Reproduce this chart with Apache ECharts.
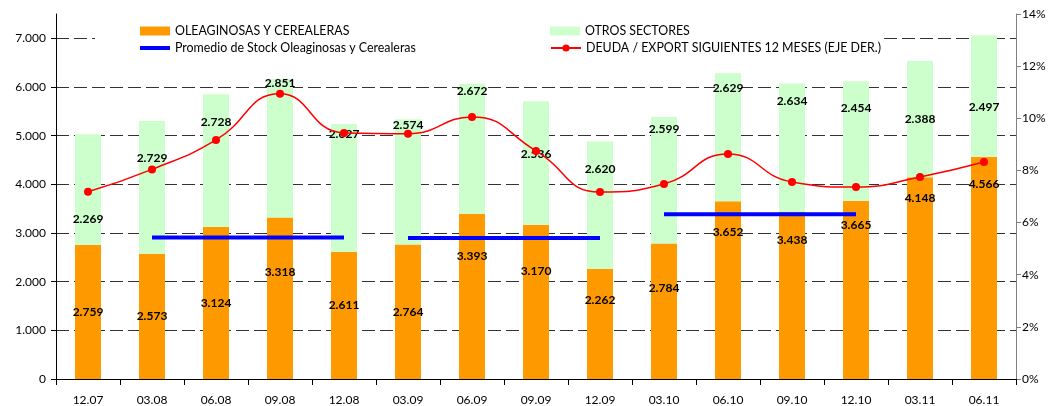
<!DOCTYPE html>
<html>
<head>
<meta charset="utf-8">
<script src="https://cdn.jsdelivr.net/npm/echarts@6/dist/echarts.min.js"></script>
<style>
  html, body { margin: 0; padding: 0; background: #fff; }
  #chart { width: 1053px; height: 406px; }
</style>
</head>
<body>
<div id="chart"></div>
<script>
var periodos = ['12.07','03.08','06.08','09.08','12.08','03.09','06.09','09.09','12.09','03.10','06.10','09.10','12.10','03.11','06.11'];
var oleaginosas = [2759, 2573, 3124, 3318, 2611, 2764, 3393, 3170, 2262, 2784, 3652, 3438, 3665, 4148, 4566];
var otrosSectores = [2269, 2729, 2728, 2851, 2627, 2574, 2672, 2536, 2620, 2599, 2629, 2634, 2454, 2388, 2497];
var promedio1 = [null, 2907, 2907, 2907, 2907, null, null, null, null, null, null, null, null, null, null];
var promedio2 = [null, null, null, null, null, 2897, 2897, 2897, 2897, null, null, null, null, null, null];
var promedio3 = [null, null, null, null, null, null, null, null, null, 3385, 3385, 3385, 3385, null, null];
var deudaExport = [7.18, 8.04, 9.17, 10.94, 9.44, 9.41, 10.05, 8.75, 7.17, 7.48, 8.63, 7.56, 7.36, 7.75, 8.32];
var ejeIzq = [0, 1000, 2000, 3000, 4000, 5000, 6000, 7000];

// desplazamiento vertical (px) de las etiquetas, como en el original
var despOleag = [0, 0, 0, -26, -10, 0, -40, -31, -24, -23, -58, -55, -65, -80, -84];
var despOtros = [30, -29, -38, -65, -54, -57, -58, -9, -36, -51, -49, -46, -33, 0, 11];

var FONT = 'Lato';

function miles(v) {
	return Math.round(v).toString().replace(/\B(?=(\d{3})+(?!\d))/g, '.');
}

function conEtiquetas(valores, desp) {
	var arr = [];
	for (var i = 0; i < valores.length; i++) {
		arr.push({ value: valores[i], label: { offset: [0, desp[i]] } });
	}
	return arr;
}

function segmentoPromedio(datos) {
	return {
		name: 'Promedio de Stock Oleaginosas y Cerealeras',
		type: 'line',
		data: datos,
		symbol: 'none',
		connectNulls: false,
		lineStyle: { color: '#0000FF', width: 4 },
		itemStyle: { color: '#0000FF' },
		z: 4
	};
}

var labelStyle = {
	show: true,
	position: 'inside',
	color: '#000',
	fontFamily: FONT,
	fontWeight: 'bold',
	fontSize: 12,
	formatter: function (p) { return miles(p.value); }
};

var myChart = echarts.init(document.getElementById('chart'));
var option = {
	animation: false,
	backgroundColor: '#fff',
	textStyle: { fontFamily: FONT },
	grid: { left: 56, right: 37, top: 14, bottom: 27 },
	legend: {
		left: 95,
		top: 20,
		width: 775,
		padding: [5, 3, 5, 45],
		backgroundColor: '#fff',
		itemWidth: 30,
		itemHeight: 9,
		itemGap: 5,
		textStyle: { fontFamily: FONT, fontSize: 12.4, color: '#000', lineHeight: 12 },
		data: [
			{ name: 'OLEAGINOSAS Y CEREALERAS', icon: 'rect', textStyle: { width: 370 } },
			{ name: 'OTROS SECTORES', icon: 'rect', textStyle: { width: 290 } },
			{ name: 'Promedio de Stock Oleaginosas y Cerealeras', icon: 'path://M0,0 H30 V4 H0 Z', textStyle: { width: 370 } },
			{ name: 'DEUDA / EXPORT SIGUIENTES 12 MESES (EJE DER.)', textStyle: { width: 290 } }
		],
		z: 10
	},
	xAxis: {
		type: 'category',
		data: periodos,
		axisLine: { lineStyle: { color: '#000' } },
		axisTick: { show: true, length: 6, lineStyle: { color: '#000' } },
		axisLabel: { color: '#000', fontSize: 12, margin: 15, fontFamily: FONT }
	},
	yAxis: [
		{
			type: 'value',
			min: ejeIzq[0],
			max: 7500,
			interval: 1000,
			axisLine: { show: true, lineStyle: { color: '#000' } },
			axisTick: { show: true, length: 5, lineStyle: { color: '#000' } },
			axisLabel: {
				color: '#000', fontSize: 12, margin: 10, fontFamily: FONT,
				showMaxLabel: false,
				formatter: function (v) { return miles(v); }
			},
			splitLine: {
				show: true,
				showMaxLine: false,
				lineStyle: { color: '#333', type: [13, 5], width: 1 }
			}
		},
		{
			type: 'value',
			min: 0,
			max: 14,
			interval: 2,
			position: 'right',
			axisLine: { show: true, lineStyle: { color: '#808080' } },
			axisTick: { show: true, length: 5, lineStyle: { color: '#808080' } },
			axisLabel: { color: '#000', fontSize: 12, margin: 6, fontFamily: FONT, formatter: '{value}%' },
			splitLine: { show: false }
		}
	],
	series: [
		{
			name: 'OLEAGINOSAS Y CEREALERAS',
			type: 'bar',
			stack: 'total',
			barWidth: 26,
			itemStyle: { color: '#FF9900' },
			label: labelStyle,
			data: conEtiquetas(oleaginosas, despOleag),
			z: 2
		},
		{
			name: 'OTROS SECTORES',
			type: 'bar',
			stack: 'total',
			barWidth: 26,
			itemStyle: { color: '#CCFFCC' },
			label: labelStyle,
			data: conEtiquetas(otrosSectores, despOtros),
			z: 2
		},
		segmentoPromedio(promedio1),
		segmentoPromedio(promedio2),
		segmentoPromedio(promedio3),
		{
			name: 'DEUDA / EXPORT SIGUIENTES 12 MESES (EJE DER.)',
			type: 'line',
			yAxisIndex: 1,
			data: deudaExport,
			smooth: 0.5,
			symbol: 'circle',
			symbolSize: 8,
			lineStyle: { color: '#FF0000', width: 1.5 },
			itemStyle: { color: '#FF0000' },
			z: 5
		}
	]
};
myChart.setOption(option);
</script>
</body>
</html>
